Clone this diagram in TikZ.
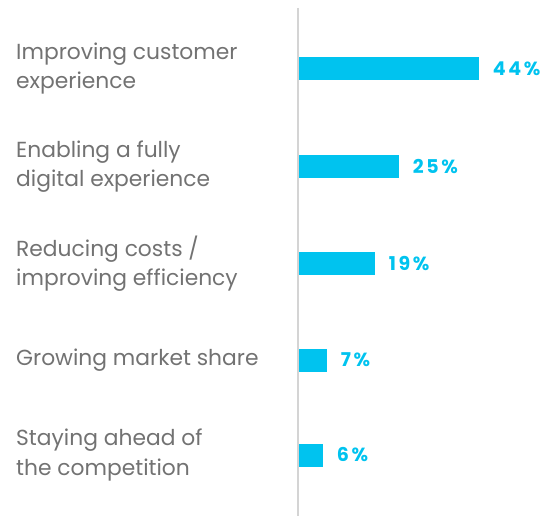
\documentclass[tikz,border=0pt]{standalone}
\usepackage{fontspec}
\setmainfont{Poppins}
\newfontfamily\pctfont[LetterSpace=14]{Poppins}
\usepackage{tikz}
\usetikzlibrary{positioning}
\definecolor{barblue}{HTML}{00C3EF}
\definecolor{labelgrey}{HTML}{727272}
\definecolor{axisgrey}{HTML}{D4D4D4}
\begin{document}
\begin{tikzpicture}[x=1pt,y=-1pt]
\useasboundingbox (0,0) rectangle (545,516);
\coordinate (top) at (298,8);
\coordinate (bottom) at (298,516);
\begin{scope}[
  bar/.style={fill=barblue, minimum height=23pt, inner sep=0pt, anchor=west},
  pct/.style={text=barblue, font=\pctfont\bfseries\fontsize{19}{19}\selectfont, inner sep=0pt, anchor=west},
  reason/.style={text=labelgrey, font=\fontsize{21.8}{29.5}\selectfont, align=left, anchor=west, inner sep=0pt}]
% draws axis
\draw[axisgrey, line width=1.3pt] (top) to (bottom);
% draws bars
\node[bar, minimum width=180pt] (b1) at (298.7,68.5) {};
\node[bar, minimum width=100pt] (b2) at (298.7,166.5) {};
\node[bar, minimum width=76pt] (b3) at (298.7,263.5) {};
\node[bar, minimum width=28pt] (b4) at (298.7,360) {};
\node[bar, minimum width=24pt] (b5) at (298.7,455) {};
% labels bars
\node[pct, right=13.5pt of b1] (v1) {44\%};
\node[pct, right=13.5pt of b2] (v2) {25\%};
\node[pct, right=13.5pt of b3] (v3) {19\%};
\node[pct, right=13.5pt of b4] (v4) {7\%};
\node[pct, right=13.5pt of b5] (v5) {6\%};
% labels reasons
\node[reason] (r1) at (16,68.5) {Improving customer\\experience};
\node[reason] (r2) at (16,166.5) {Enabling a fully\\digital experience};
\node[reason] (r3) at (16,263.5) {Reducing costs /\\improving efficiency};
\node[reason] (r4) at (16,360) {Growing market share};
\node[reason] (r5) at (16,455) {Staying ahead of\\the competition};
\end{scope}
\end{tikzpicture}
\end{document}
